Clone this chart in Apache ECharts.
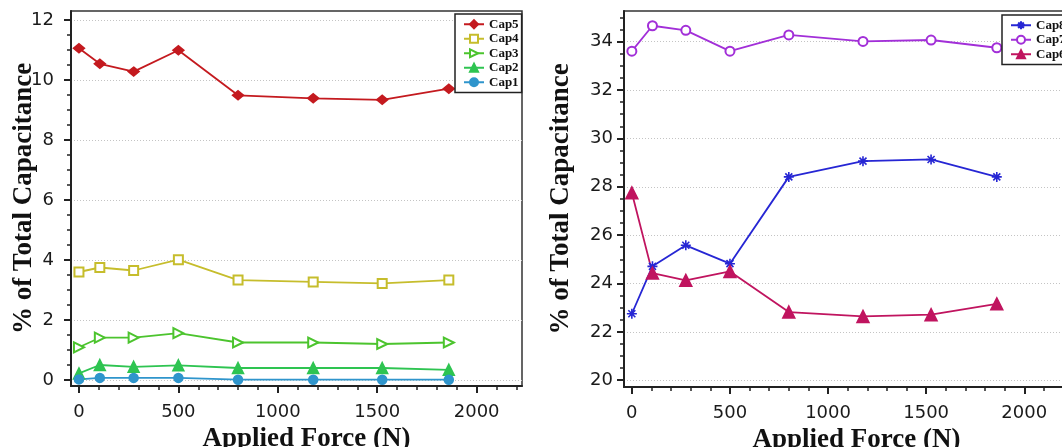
<!DOCTYPE html>
<html><head><meta charset="utf-8">
<script src="https://cdn.jsdelivr.net/npm/echarts@6/dist/echarts.min.js"></script>
<style>html,body{margin:0;padding:0;background:#fff}#c{width:1062px;height:447px}</style>
</head><body><div id="c"></div>
<script>
// ---- data ----
const force = [0, 105, 275, 500, 800, 1178, 1525, 1860];
const cap5 = [11.06, 10.54, 10.28, 10.99, 9.49, 9.39, 9.34, 9.71];
const cap4 = [3.60, 3.75, 3.65, 4.01, 3.33, 3.27, 3.22, 3.33];
const cap3 = [1.09, 1.41, 1.41, 1.56, 1.25, 1.25, 1.20, 1.25];
const cap2 = [0.22, 0.50, 0.44, 0.49, 0.40, 0.40, 0.40, 0.34];
const cap1 = [0.02, 0.07, 0.07, 0.07, 0.01, 0.01, 0.01, 0.01];
const cap8 = [22.75, 24.71, 25.58, 24.82, 28.41, 29.06, 29.13, 28.41];
const cap7 = [33.61, 34.66, 34.47, 33.61, 34.28, 34.01, 34.07, 33.75];
const cap6 = [27.75, 24.43, 24.13, 24.50, 22.82, 22.64, 22.71, 23.16];
const xTicks = [0, 500, 1000, 1500, 2000];
const yTicksLeft = [0, 2, 4, 6, 8, 10, 12];
const yTicksRight = [20, 22, 24, 26, 28, 30, 32, 34];
const legendLeft = ['Cap5', 'Cap4', 'Cap3', 'Cap2', 'Cap1'];
const legendRight = ['Cap8', 'Cap7', 'Cap6'];

// minor tick positions: subdivisions between the listed major ticks
function minors(majors, step, lo, hi) {
  const out = [];
  const n = Math.round((hi - lo) / step);
  for (let i = 0; i <= n; i++) {
    const v = +(lo + i * step).toFixed(4);
    if (majors.indexOf(v) < 0) out.push(v);
  }
  return out;
}
const xMinor = minors(xTicks, 100, 0, 2200);
const yMinorLeft = minors(yTicksLeft, 0.5, 0, 12);
const yMinorRight = minors(yTicksRight, 0.5, 20, 35);

const pairs = (ys) => force.map((x, i) => [x, ys[i]]);

const AX = '#222';
const labelFont = { fontFamily: 'DejaVu Sans', fontSize: 18, color: '#1a1a1a' };
const titleFont = { fontFamily: 'Liberation Serif', fontWeight: 'bold', fontSize: 27, color: '#111' };
const plain = (v) => String(v);

function xAxes(grid) {
  return [
    { type: 'value', gridIndex: grid, min: -40, max: 2228, splitNumber: 5,
      name: 'Applied Force (N)', nameLocation: 'middle', nameGap: 40, nameMoveOverlap: false,
      nameTextStyle: Object.assign({ padding: [0, 0, 0, 20] }, titleFont),
      axisLine: { show: true, onZero: false, lineStyle: { color: AX, width: 2 } },
      axisTick: { show: true, customValues: xTicks, length: 7, lineStyle: { color: AX, width: 2 } },
      axisLabel: Object.assign({ customValues: xTicks, margin: 17, formatter: plain }, labelFont),
      splitLine: { show: false } },
    { type: 'value', gridIndex: grid, min: -40, max: 2228, position: 'bottom',
      axisLine: { show: false, onZero: false },
      axisTick: { show: true, customValues: xMinor, length: 4, lineStyle: { color: AX, width: 1.5 } },
      axisLabel: { show: false }, splitLine: { show: false } }
  ];
}
function yAxes(grid, min, max, majors, minorVals, split, lblMargin, nameGap) {
  return [
    { type: 'value', gridIndex: grid, min: min, max: max, splitNumber: split,
      name: '% of Total Capacitance', nameLocation: 'middle', nameGap: nameGap, nameMoveOverlap: false,
      nameTextStyle: titleFont,
      axisLine: { show: true, onZero: false, lineStyle: { color: AX, width: 2 } },
      axisTick: { show: true, customValues: majors, length: 7, lineStyle: { color: AX, width: 2 } },
      axisLabel: Object.assign({ customValues: majors, margin: lblMargin, formatter: plain }, labelFont),
      splitLine: { show: true, lineStyle: { color: '#c4c4c4', type: [1, 2], width: 1 } } },
    { type: 'value', gridIndex: grid, min: min, max: max, position: 'left',
      axisLine: { show: false, onZero: false },
      axisTick: { show: true, customValues: minorVals, length: 4, lineStyle: { color: AX, width: 1.5 } },
      axisLabel: { show: false }, splitLine: { show: false } }
  ];
}

function ser(name, data, xi, yi, color, symbol, size, extra) {
  return Object.assign({
    name: name, type: 'line', xAxisIndex: xi, yAxisIndex: yi, data: pairs(data),
    symbol: symbol, symbolSize: size, showSymbol: true,
    lineStyle: { color: color, width: 1.8 },
    itemStyle: { color: color, borderColor: color, borderWidth: 1.5 },
    emphasis: { disabled: true }, animation: false, z: 3
  }, extra || {});
}

const asterisk = 'path://M5,0 L5,10 M0,5 L10,5 M1.5,1.5 L8.5,8.5 M8.5,1.5 L1.5,8.5';

const legendStyle = {
  orient: 'vertical', backgroundColor: '#fff', borderColor: '#222', borderWidth: 1.5,
  padding: [3, 3, 3, 8], itemWidth: 20, itemHeight: 10, itemGap: 0,
  textStyle: { fontFamily: 'Liberation Serif', fontWeight: 'bold', fontSize: 13, color: '#111', lineHeight: 14.5 }
};

const option = {
  animation: false,
  backgroundColor: '#fff',
  grid: [
    { left: 71, top: 11, width: 451, height: 375, outerBoundsMode: 'none', containLabel: false,
      show: true, borderColor: '#333', borderWidth: 1.5, backgroundColor: '#fff' },
    { left: 624, top: 11, width: 445, height: 376, outerBoundsMode: 'none', containLabel: false,
      show: true, borderColor: '#333', borderWidth: 1.5, backgroundColor: '#fff' }
  ],
  legend: [
    Object.assign({ data: legendLeft, left: 455, top: 14 }, legendStyle),
    Object.assign({ data: legendRight, left: 1002, top: 15 }, legendStyle)
  ],
  xAxis: [].concat(xAxes(0), xAxes(1)),
  yAxis: [].concat(
    yAxes(0, -0.2, 12.3, yTicksLeft, yMinorLeft, 6, 17, 33),
    yAxes(1, 19.72, 35.27, yTicksRight, yMinorRight, 8, 11, 49)
  ),
  series: [
    ser('Cap5', cap5, 0, 0, '#c41a1f', 'diamond', [11, 9]),
    ser('Cap4', cap4, 0, 0, '#c6bd2c', 'emptyRect', 9),
    ser('Cap3', cap3, 0, 0, '#4cc42e', 'emptyTriangle', 10, { symbolRotate: -90 }),
    ser('Cap2', cap2, 0, 0, '#2ec451', 'triangle', 11),
    ser('Cap1', cap1, 0, 0, '#2f95cc', 'circle', 9),
    ser('Cap8', cap8, 2, 2, '#2626d4', asterisk, 10, { itemStyle: { color: 'none', borderColor: '#2626d4', borderWidth: 1.6 } }),
    ser('Cap7', cap7, 2, 2, '#a22fd8', 'emptyCircle', 9),
    ser('Cap6', cap6, 2, 2, '#c0145f', 'triangle', 12)
  ]
};

const chart = echarts.init(document.getElementById('c'), null, { renderer: 'canvas' });
chart.setOption(option);
</script>
</body></html>
